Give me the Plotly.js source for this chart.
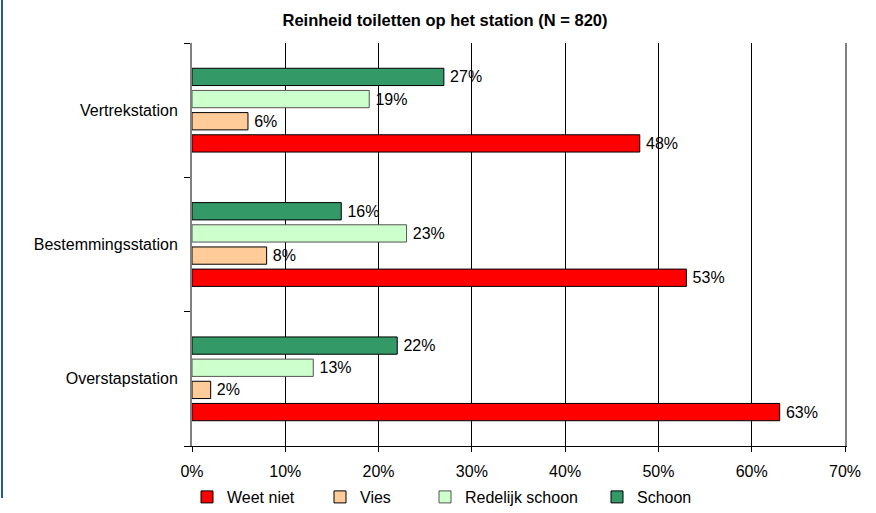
<!DOCTYPE html>
<html>
<head>
<meta charset="utf-8">
<script src="https://cdn.plot.ly/plotly-3.0.1.min.js"></script>
<style>
  html, body { margin: 0; padding: 0; background: #fff; }
  #chart { width: 876px; height: 513px; }
  #edge { position: absolute; left: 1px; top: 0; width: 2px; height: 498px; background: #2a5a8c; }
</style>
</head>
<body>
<div id="chart"></div>
<div id="edge"></div>
<script>
const categories = ["Vertrekstation", "Bestemmingsstation", "Overstapstation"];
const seriesNames = ["Weet niet", "Vies", "Redelijk schoon", "Schoon"];
const weetNiet = [48, 53, 63];
const vies = [6, 8, 2];
const redelijkSchoon = [19, 23, 13];
const schoon = [27, 16, 22];
const xTicks = [0, 10, 20, 30, 40, 50, 60, 70];

const values = [weetNiet, vies, redelijkSchoon, schoon];
const colors = ["#FF0000", "#FFCC99", "#CCFFCC", "#339966"];
const lineColors = ["#000000", "#000000", "#555555", "#000000"];
const legendIds = ["legend", "legend2", "legend3", "legend4"];
const textStarts = [227, 360, 465, 637];

const font = "Liberation Sans, Arial, sans-serif";
const plotL = 192, plotR = 845, plotT = 43, plotB = 446;
const pw = plotR - plotL, ph = plotB - plotT;

const traces = seriesNames.map((name, i) => ({
  type: "bar",
  orientation: "h",
  name: name,
  y: categories,
  x: values[i],
  marker: { color: colors[i], line: { color: lineColors[i], width: 1 } },
  text: values[i].map(v => "\u2009" + v + "%"),
  textposition: "outside",
  textfont: { family: font, size: 16, color: "#000" },
  cliponaxis: false,
  legend: legendIds[i],
  hoverinfo: "x+name"
}));

const layout = {
  width: 876,
  height: 513,
  margin: { l: plotL, r: 876 - plotR, t: plotT, b: 513 - plotB, pad: 0, autoexpand: false },
  paper_bgcolor: "#fff",
  plot_bgcolor: "#fff",
  font: { family: font, size: 16, color: "#000" },
  title: {
    text: "<b>Reinheid toiletten op het station (N = 820)</b>",
    font: { family: font, size: 16.5, color: "#000" },
    x: 445 / 876, xanchor: "center", y: 1 - 20 / 513, yanchor: "middle"
  },
  barmode: "group",
  bargap: 0.34,
  bargroupgap: 0.22,
  xaxis: {
    range: [0, 70],
    tickvals: xTicks,
    ticktext: xTicks.map(v => v + "%"),
    showgrid: true,
    gridcolor: "#000",
    gridwidth: 1,
    showline: true,
    linecolor: "#000",
    linewidth: 1,
    ticks: "outside",
    ticklen: 5,
    tickcolor: "#000",
    ticklabelstandoff: 6,
    zeroline: false,
    fixedrange: true,
    tickfont: { family: font, size: 16, color: "#000" }
  },
  yaxis: {
    type: "category",
    categoryorder: "array",
    categoryarray: categories.slice().reverse(),
    showline: true,
    linecolor: "#808080",
    linewidth: 2,
    mirror: true,
    ticks: "outside",
    tickson: "boundaries",
    ticklen: 6,
    tickcolor: "#000",
    ticklabelstandoff: 9,
    showgrid: false,
    fixedrange: true,
    tickfont: { family: font, size: 16, color: "#000" }
  },
  showlegend: true
};

legendIds.forEach((id, i) => {
  layout[id] = {
    orientation: "h",
    x: (textStarts[i] - 40 - plotL) / pw,
    xanchor: "left",
    y: (plotB - 497) / ph,
    yanchor: "middle",
    bgcolor: "rgba(0,0,0,0)",
    borderwidth: 0,
    font: { family: font, size: 16, color: "#000" },
    itemclick: false,
    itemdoubleclick: false
  };
});

Plotly.newPlot("chart", traces, layout, { displayModeBar: false, staticPlot: true });
</script>
</body>
</html>
